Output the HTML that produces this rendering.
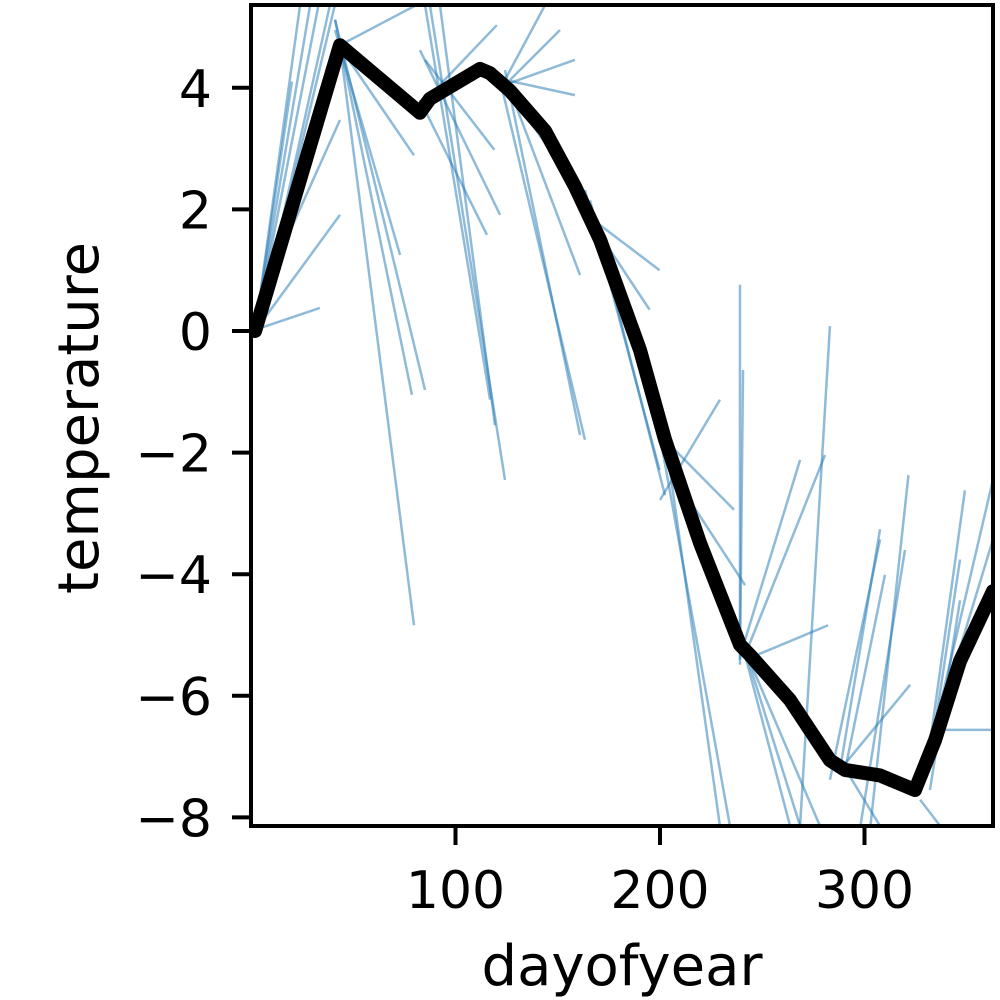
<!DOCTYPE html>
<html><head><meta charset="utf-8"><style>
html,body{margin:0;padding:0;background:#fff}
svg{display:block;font-family:"DejaVu Sans","Liberation Sans",sans-serif}
</style></head><body>
<svg id="chart" width="1000" height="1000">
<defs><clipPath id="clip"><rect x="251" y="5" width="742" height="821"/></clipPath></defs>
<g id="ice" clip-path="url(#clip)"></g>
<g id="pd" clip-path="url(#clip)"></g>
<rect x="251" y="5" width="742" height="821" fill="none" stroke="#000" stroke-width="4"/>
<g id="xt"></g>
<g id="yt"></g>
<text x="622" y="985" font-size="56" text-anchor="middle">dayofyear</text>
<text transform="translate(98,418) rotate(-90)" font-size="56" text-anchor="middle">temperature</text>
</svg>
<script>
const pdDays=[2,43.5,82.6,87.5,112,116.9,126.7,143.8,158.4,170.7,190.2,202.4,219.6,239.1,244,263.6,283.1,290.5,307.6,324.7,334.5,346.7,362.8];
const pdTemps=[0,4.70,3.59,3.82,4.31,4.24,3.95,3.29,2.38,1.50,-0.31,-1.78,-3.49,-5.16,-5.33,-6.07,-7.06,-7.22,-7.31,-7.55,-6.73,-5.43,-4.28];
const iceX1=[2,2,2,11.7,4.4,41.1,41.1,43.5,41.1,41.1,43.5,85.1,87.5,82.6,82.6,85.1,92.4,92.4,121.8,124.2,124.2,124.2,126.7,124.2,126.7,129.1,160.9,165.8,165.8,163.3,200,202.4,204.9,195.1,200,239.1,239.1,241.6,241.6,241.6,241.6,241.6,241.6,283.1,268.5,288,288,290.5,288,298,302.9,329.6,329.6,334.5,332,339,327.2,332,2,2,3,2];
const iceY1=[0.02,0,0,1.09,0.18,5.12,5.12,4.7,4.95,4.79,4.7,5.36,5.36,3.8,4.62,4.46,5.36,4.05,4.13,4.29,4.13,4.05,4.13,4.13,3.96,3.8,1.99,1.83,2.15,2.32,-2.78,-1.79,-2.29,-0.81,-1.13,-5.41,-5.49,-5.08,-5.33,-5.41,-5.25,-5.33,-5.25,-7.38,-8.14,-7.22,-7.22,-7.22,-7.06,-8.14,-8.14,-7.38,-7.22,-6.56,-7.05,-6.07,-7.71,-7.55,0,0,0,0];
const iceX2=[33.7,43.5,28.9,43.5,38.6,78.7,85.1,79.7,72.9,79.7,80.8,116.9,124.2,115.4,121.8,119,119.3,120.2,163.3,160.9,158.4,158.4,151.1,143.8,160.9,163.3,199.8,194.9,202.4,199.8,229.3,236.2,241.6,234.2,229.3,239.1,240.6,268.5,280.7,282.2,278.2,263.6,268.5,307.6,283.1,322.3,307.6,310,307.6,319.8,321.5,349.1,362.8,362.8,346.7,362.8,337,346.7,24,33,41,20];
const iceY2=[0.38,1.91,5.36,3.47,5.36,-1.05,-0.97,-4.84,1.25,2.89,5.36,-1.13,-2.45,1.58,1.91,2.98,-1.55,5.03,-1.79,-1.71,3.88,4.46,4.95,5.36,0.92,2.15,1.0,0.35,-2.70,-2.29,-1.13,-2.94,-4.18,-8.14,-8.14,0.76,-0.64,-2.12,-2.04,-4.84,-8.14,-8.14,-8.14,-3.43,0.08,-5.82,-3.26,-4.01,-8.14,-3.60,-2.37,-2.62,-2.45,-6.56,-3.76,-3.43,-8.14,-4.43,5.36,5.36,5.36,4.1];
const xTicks=[100,200,300];
const yTicks=[-8,-6,-4,-2,0,2,4];
const sx=d=>251+(d-0)*2.045;
const sy=t=>331-t*60.8;
const NS="http://www.w3.org/2000/svg";
const ice=document.getElementById('ice');
for(let i=0;i<iceX1.length;i++){
 const l=document.createElementNS(NS,'line');
 l.setAttribute('x1',sx(iceX1[i]));l.setAttribute('y1',sy(iceY1[i]));
 l.setAttribute('x2',sx(iceX2[i]));l.setAttribute('y2',sy(iceY2[i]));
 l.setAttribute('stroke','#1f77b4');l.setAttribute('stroke-opacity','0.5');l.setAttribute('stroke-width','2.5');
 
 
 ice.appendChild(l);
}
const pd=document.getElementById('pd');
const p=document.createElementNS(NS,'polyline');
p.setAttribute('points',pdDays.map((d,i)=>sx(d)+','+sy(pdTemps[i])).join(' '));
p.setAttribute('fill','none');p.setAttribute('stroke','#000');p.setAttribute('stroke-width','14');p.setAttribute('stroke-linejoin','round');p.setAttribute('stroke-linecap','round');


pd.appendChild(p);
const xt=document.getElementById('xt');
xTicks.forEach(v=>{
 const x=sx(v);
 const l=document.createElementNS(NS,'line');
 l.setAttribute('x1',x);l.setAttribute('x2',x);l.setAttribute('y1',826);l.setAttribute('y2',845);l.setAttribute('stroke','#000');l.setAttribute('stroke-width','4');
 
 
 xt.appendChild(l);
 const t=document.createElementNS(NS,'text');
 t.setAttribute('x',x);t.setAttribute('y',908);t.setAttribute('font-size','52');t.setAttribute('text-anchor','middle');
 t.textContent=v;
 
 
 xt.appendChild(t);
});
const yt=document.getElementById('yt');
yTicks.forEach(v=>{
 const y=sy(v);
 const l=document.createElementNS(NS,'line');
 l.setAttribute('x1',232);l.setAttribute('x2',251);l.setAttribute('y1',y);l.setAttribute('y2',y);l.setAttribute('stroke','#000');l.setAttribute('stroke-width','4');
 
 
 yt.appendChild(l);
 const t=document.createElementNS(NS,'text');
 t.setAttribute('x',212);t.setAttribute('y',y+19);t.setAttribute('font-size','52');t.setAttribute('text-anchor','end');
 t.textContent=(v<0?'\u2212':'')+Math.abs(v);
 
 
 yt.appendChild(t);
});
</script>
</body></html>
